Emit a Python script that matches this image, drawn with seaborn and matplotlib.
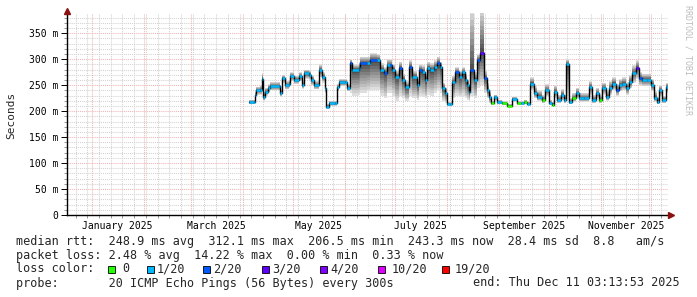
import numpy as np
import pandas as pd
import matplotlib
matplotlib.use("Agg")
import matplotlib.pyplot as plt
import matplotlib.dates as mdates
from matplotlib.ticker import MultipleLocator, FuncFormatter, FixedLocator
from matplotlib.patches import Rectangle
import seaborn as sns

# ---------------- data ----------------
# days after 2025-01-01
day_offset = [93.8, 96.8, 97.4, 98.0, 100.4, 101.4, 102.3, 103.4, 105.3, 106.3,
              111.3, 111.9, 113.3, 115.3, 117.3, 118.3, 120.3, 123.3, 125.3, 126.3,
              129.3, 130.7, 132.3, 135.3, 137.3, 139.3, 139.9, 141.3, 145.2, 146.3,
              147.2, 151.2, 152.2, 154.2, 155.2, 159.2, 160.2, 164.2, 166.2, 170.2,
              172.2, 174.1, 176.2, 178.2, 179.2, 181.1, 183.1, 185.2, 187.1, 189.1,
              191.1, 194.1, 195.1, 197.1, 199.1, 200.1, 202.1, 204.1, 206.1, 207.7,
              209.1, 211.1, 212.1, 214.1, 215.1, 217.1, 219.0, 221.1, 223.0, 224.1,
              225.0, 226.0, 228.0, 230.0, 232.0, 234.0, 236.0, 237.0, 238.4, 240.0,
              242.0, 245.0, 248.0, 251.0, 254.0, 256.0, 257.9, 260.0, 261.9, 263.9,
              265.9, 268.9, 270.9, 272.9, 274.9, 275.9, 277.9, 279.9, 281.9, 282.9,
              284.9, 286.9, 288.9, 290.8, 293.8, 296.8, 298.9, 300.8, 302.8, 304.8,
              306.8, 308.8, 310.8, 312.8, 314.8, 316.8, 318.8, 320.8, 322.8, 324.8,
              326.8, 328.8, 331.8, 333.8, 335.7, 337.8, 338.7, 340.8, 342.7]
median_ms = [217, 217, 231, 240, 240, 262, 227, 237, 244, 248,
             248, 234, 263, 250, 253, 267, 260, 267, 250, 273,
             270, 260, 250, 279, 266, 244, 208, 215, 215, 246,
             256, 256, 244, 292, 279, 283, 292, 292, 298, 298,
             279, 273, 288, 288, 279, 266, 283, 260, 246, 285,
             266, 250, 279, 275, 260, 283, 279, 285, 292, 285,
             244, 234, 213, 213, 256, 275, 266, 275, 260, 250,
             237, 279, 260, 298, 312, 263, 240, 227, 215, 227,
             217, 215, 210, 223, 215, 215, 217, 214, 253, 234,
             227, 221, 240, 215, 212, 237, 221, 231, 221, 290,
             217, 225, 234, 225, 225, 246, 221, 234, 221, 244,
             227, 244, 253, 240, 250, 253, 244, 256, 273, 283,
             263, 260, 260, 250, 225, 217, 240, 221, 246]
smoke_lo_ms = [213, 213, 225, 232, 232, 250, 220, 230, 236, 240,
               240, 228, 254, 242, 245, 258, 252, 258, 243, 262,
               260, 250, 242, 265, 255, 235, 205, 210, 210, 238,
               248, 248, 238, 235, 230, 232, 235, 238, 240, 240,
               230, 225, 235, 235, 230, 220, 230, 225, 220, 230,
               225, 222, 230, 228, 225, 232, 230, 235, 240, 235,
               220, 215, 210, 210, 225, 230, 228, 230, 225, 222,
               220, 230, 225, 245, 250, 235, 225, 215, 212, 220,
               213, 212, 208, 218, 212, 212, 213, 211, 240, 225,
               220, 215, 228, 212, 209, 225, 215, 222, 215, 222,
               213, 218, 225, 218, 218, 232, 215, 225, 215, 232,
               220, 232, 240, 230, 238, 240, 232, 244, 255, 262,
               250, 248, 248, 238, 218, 213, 228, 215, 235]
smoke_hi_ms = [222, 222, 238, 247, 250, 273, 238, 245, 252, 256,
               256, 242, 270, 258, 260, 275, 268, 275, 258, 280,
               278, 268, 258, 290, 275, 252, 214, 220, 220, 252,
               262, 262, 252, 300, 290, 295, 305, 305, 312, 310,
               292, 285, 300, 300, 290, 278, 295, 272, 258, 298,
               278, 262, 290, 288, 272, 295, 292, 298, 305, 295,
               255, 245, 218, 218, 268, 285, 278, 285, 272, 262,
               250, 400, 275, 310, 400, 278, 255, 238, 220, 232,
               222, 219, 214, 228, 219, 219, 222, 218, 265, 248,
               240, 232, 252, 222, 218, 250, 232, 242, 232, 300,
               225, 235, 245, 235, 235, 258, 232, 245, 232, 255,
               240, 258, 265, 252, 262, 265, 256, 270, 288, 298,
               275, 272, 272, 262, 238, 228, 250, 230, 255]
loss_count = [1, 1, 1, 1, 1, 1, 1, 1, 1, 1,
              1, 1, 1, 1, 1, 1, 1, 1, 1, 1,
              1, 1, 1, 1, 1, 1, 1, 1, 1, 1,
              1, 1, 1, 2, 1, 1, 2, 1, 2, 1,
              1, 2, 1, 2, 1, 1, 2, 1, 1, 2,
              1, 1, 2, 1, 1, 1, 1, 1, 2, 1,
              1, 1, 1, 1, 1, 2, 1, 1, 1, 1,
              1, 2, 1, 2, 3, 2, 1, 1, 0, 1,
              1, 0, 0, 1, 0, 1, 0, 1, 1, 1,
              1, 0, 1, 1, 0, 1, 1, 1, 1, 1,
              1, 0, 1, 1, 1, 1, 1, 1, 0, 1,
              1, 1, 1, 2, 1, 1, 1, 1, 1, 3,
              2, 1, 1, 1, 1, 1, 1, 1, 1]

loss_levels = [0, 1, 2, 3, 4, 10, 19]
loss_labels = ["0", "1/20", "2/20", "3/20", "4/20", "10/20", "19/20"]
loss_colors = ["#26ff00", "#00b8ff", "#0059ff", "#5e00ff", "#7e00ff", "#dd00ff", "#ff0000"]

month_labels_at = ["2025-01-16", "2025-03-16", "2025-05-16", "2025-07-16", "2025-09-16", "2025-11-16"]

footer_rtt = "median rtt:  248.9 ms avg  312.1 ms max  206.5 ms min  243.3 ms now  28.4 ms sd  8.8   am/s"
footer_loss = "packet loss: 2.48 % avg  14.22 % max  0.00 % min  0.33 % now"
footer_probe = "probe:       20 ICMP Echo Pings (56 Bytes) every 300s"
footer_end = "end: Thu Dec 11 03:13:53 2025"

# ---------------- figure ----------------
sns.set_theme(style="white")
plt.rcParams["font.family"] = ["DejaVu Sans Mono", "DejaVu Sans"]

W, H = 697, 297
fig = plt.figure(figsize=(W / 100, H / 100), dpi=100)
fig.patch.set_facecolor("white")
ax = fig.add_axes([67 / W, (H - 215) / H, 601 / W, 202 / H])
ax.set_facecolor("white")

base = pd.Timestamp("2025-01-01")
dates = base + pd.to_timedelta(day_offset, unit="D")
df = pd.DataFrame({"date": dates, "median": median_ms, "lo": smoke_lo_ms,
                   "hi": smoke_hi_ms, "loss": loss_count})
ends = list(df["date"].iloc[1:]) + [df["date"].iloc[-1] + pd.Timedelta(days=1.4)]
df["end"] = ends

# extended arrays for step drawing
x_ext = list(df["date"]) + [df["end"].iloc[-1]]
med_ext = np.array(list(df["median"]) + [df["median"].iloc[-1]], float)
lo_ext = np.array(list(df["lo"]) + [df["lo"].iloc[-1]], float)
hi_ext = np.array(list(df["hi"]) + [df["hi"].iloc[-1]], float)

# smoke: nested bands, light outside, dark near the median
N = 10
for k in range(N, 0, -1):
    f = k / N
    g = 0.25 + 0.62 * f
    ax.fill_between(x_ext, med_ext - (med_ext - lo_ext) * f, med_ext + (hi_ext - med_ext) * f,
                    step="post", color=(g, g, g), lw=0, zorder=2)

# median line
line_df = pd.DataFrame({"date": x_ext, "median": med_ext})
sns.lineplot(data=line_df, x="date", y="median", drawstyle="steps-post", color="black",
             lw=1.0, ax=ax, zorder=3, estimator=None)

cmap = dict(zip(loss_levels, loss_colors))
ax.hlines(df["median"], df["date"], df["end"], colors=[cmap[v] for v in df["loss"]],
          lw=1.8, zorder=4)

# axes limits
start = pd.Timestamp("2024-12-16 20:40")
end = pd.Timestamp("2025-12-11 03:13:53")
ax.set_xlim(start, end)
ax.set_ylim(0, 389)

# grids
grid_gray = "#d2d2d2"
grid_red = "#f0b4b4"
ax.yaxis.set_major_locator(MultipleLocator(50))
ax.yaxis.set_minor_locator(MultipleLocator(10))
ax.yaxis.set_major_formatter(FuncFormatter(lambda v, p: "0" if v == 0 else f"{v:.0f} m"))
ax.xaxis.set_major_locator(FixedLocator(mdates.date2num(pd.to_datetime(month_labels_at))))
ax.xaxis.set_major_formatter(mdates.DateFormatter("%B %Y"))
ax.xaxis.set_minor_locator(mdates.WeekdayLocator(byweekday=mdates.SU))
ax.xaxis.remove_overlapping_locs = False

ax.grid(False)
ax.grid(which="minor", axis="both", color=grid_gray, ls=(0, (1, 1)), lw=0.75, zorder=0)
ax.grid(which="major", axis="y", color=grid_red, ls=(0, (1, 1)), lw=0.75, zorder=0)
for m in pd.date_range("2025-01-01", "2025-12-01", freq="MS"):
    ax.axvline(m, color=grid_red, ls=(0, (1, 1)), lw=0.75, zorder=1)
ax.set_axisbelow(True)

ax.tick_params(axis="y", which="major", length=4, width=0.7, direction="out", left=True,
               labelsize=7, pad=2, colors="black")
ax.tick_params(axis="y", which="minor", length=2, width=0.6, direction="out", left=True,
               color="#888888")
ax.tick_params(axis="x", which="major", length=0, labelsize=7, pad=4, colors="black")
ax.tick_params(axis="x", which="minor", length=2, width=0.6, direction="out", bottom=True,
               color="#888888")
ax.set_xlabel("")
ax.set_ylabel("")

for s in ["top", "right"]:
    ax.spines[s].set_visible(False)
for s in ["left", "bottom"]:
    ax.spines[s].set_color("black")
    ax.spines[s].set_linewidth(1.0)

# arrows
arrow_c = "#8b1010"
ax.plot([0], [1 + 2.5 / 202], marker="^", ms=5, color=arrow_c, transform=ax.transAxes,
        clip_on=False, zorder=6)
ax.plot([1 + 2.5 / 601], [0], marker=">", ms=5, color=arrow_c, transform=ax.transAxes,
        clip_on=False, zorder=6)

def px(x, y):
    return x / W, 1 - y / H

fig.text(*px(11, 115), "Seconds", rotation=90, ha="center", va="center", fontsize=8)
fig.text(*px(688, 60), "RRDTOOL / TOBI OETIKER", rotation=270, ha="center", va="center",
         fontsize=6, color="#bdbdbd")

fs = 8.5
fig.text(*px(16, 241), footer_rtt, ha="left", va="center", fontsize=fs)
fig.text(*px(16, 255), footer_loss, ha="left", va="center", fontsize=fs)
fig.text(*px(16, 269), "loss color:", ha="left", va="center", fontsize=fs)
box_x = [108, 147, 203, 262, 320, 378, 442]
lab_x = [122, 157, 213, 272, 330, 392, 455]
for bx, lx, lab, col in zip(box_x, lab_x, loss_labels, loss_colors):
    fig.patches.append(Rectangle((bx / W, 1 - 273 / H), 7 / W, 7 / H, transform=fig.transFigure,
                                 facecolor=col, edgecolor="black", lw=0.6))
    fig.text(*px(lx, 269), lab, ha="left", va="center", fontsize=fs)
fig.text(*px(16, 283), footer_probe, ha="left", va="center", fontsize=fs)
fig.text(*px(680, 283), footer_end, ha="right", va="center", fontsize=fs)

fig.savefig("out.png", dpi=100, facecolor="white")
